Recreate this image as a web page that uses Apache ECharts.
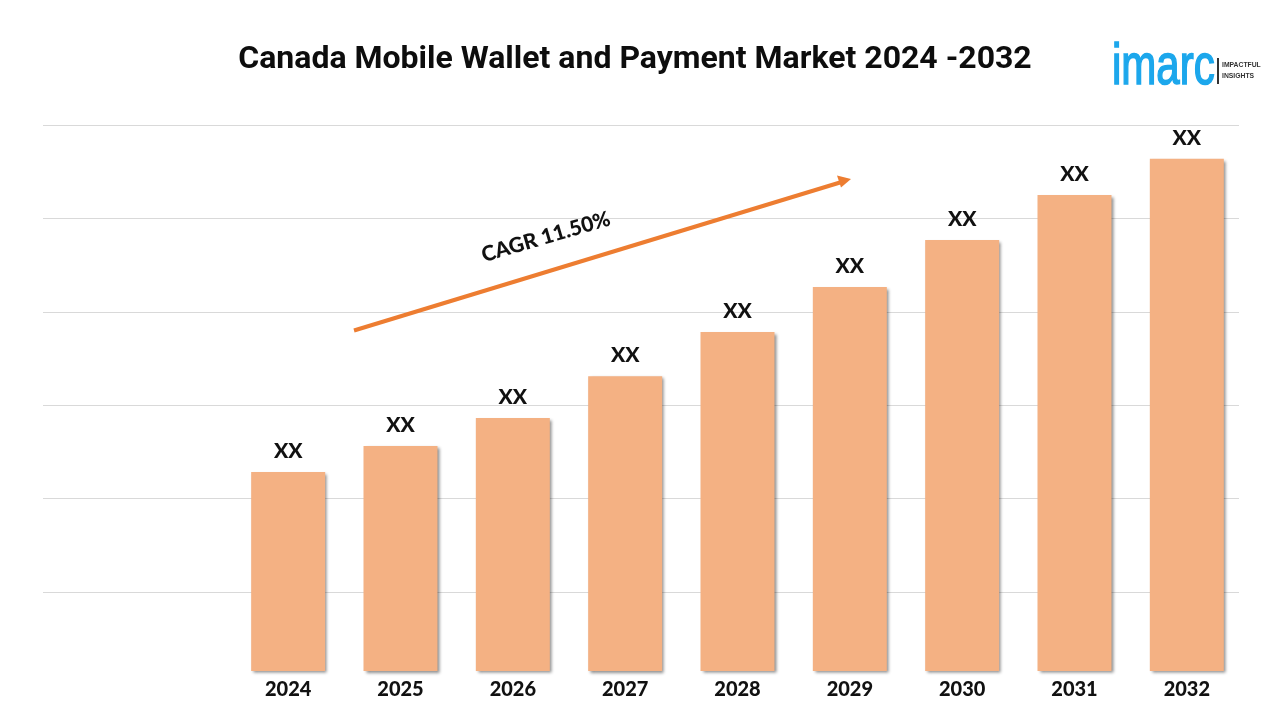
<!DOCTYPE html>
<html><head><meta charset="utf-8">
<style>html,body{margin:0;padding:0;background:#fff}#c{width:1280px;height:720px}</style>
<script src="https://cdn.jsdelivr.net/npm/echarts@6/dist/echarts.min.js"></script>
</head><body><div id="c"></div>
<script>
const categories = ['2024','2025','2026','2027','2028','2029','2030','2031','2032'];
const marketValues = [36.45,41.2,46.35,54.0,62.1,70.35,78.95,87.2,93.8];
const valueLabel = 'XX';
const chartTitle = 'Canada Mobile Wallet and Payment Market 2024 -2032';
const cagrText = 'CAGR 11.50%';

const chart = echarts.init(document.getElementById('c'), null, {renderer:'canvas', width:1280, height:720});
chart.setOption({
  animation:false,
  backgroundColor:'#ffffff',
  title:{text:chartTitle,left:630,top:39,textAlign:'center',
    textStyle:{fontFamily:'Roboto',fontWeight:'bold',fontSize:32,color:'#0d0d0d'}},
  grid:[
    {left:232,width:1011,top:125,height:546},
    {left:43,width:1196,top:125,height:560.3}
  ],
  xAxis:[
    {type:'category',gridIndex:0,data:categories,
      axisLine:{show:false},axisTick:{show:false},
      axisLabel:{margin:9,fontFamily:'Lato',fontWeight:900,fontSize:20,color:'#111111'}},
    {type:'value',gridIndex:1,min:0,max:1,show:false,splitLine:{show:false}}
  ],
  yAxis:[
    {type:'value',gridIndex:0,min:0,max:100,show:false,splitLine:{show:false}},
    {type:'value',gridIndex:1,min:0,max:6,interval:1,
      axisLine:{show:false},axisTick:{show:false},axisLabel:{show:false},
      splitLine:{show:true,showMinLine:false,lineStyle:{color:'#d9d9d9',width:1}}}
  ],
  series:[{
    type:'bar',xAxisIndex:0,yAxisIndex:0,data:marketValues,barWidth:74,z:3,
    itemStyle:{color:'#f4b183',shadowColor:'rgba(0,0,0,0.45)',shadowBlur:3,shadowOffsetX:2,shadowOffsetY:2},
    label:{show:true,position:'top',distance:10,formatter:()=>valueLabel,
      fontFamily:'Lato',fontWeight:900,fontSize:21,color:'#111111'}
  }],
  graphic:[
    {type:'line',z:10,shape:{x1:354,y1:330.5,x2:840,y2:182.5},style:{stroke:'#ed7d31',lineWidth:4}},
    {type:'polygon',z:10,shape:{points:[[851,179],[837,175.5],[841,187.5]]},style:{fill:'#ed7d31'}},
    {type:'text',z:10,x:546,y:237,rotation:0.285,
      style:{text:cagrText,align:'center',verticalAlign:'middle',fontFamily:'Lato',fontWeight:900,fontSize:21,fill:'#111111'}},
    {type:'text',z:10,x:1112,y:97,scaleY:1.35,
      style:{text:'imarc',align:'left',verticalAlign:'bottom',fontFamily:'Liberation Sans',fontSize:42,fill:'#1ca7ec',stroke:'#1ca7ec',lineWidth:1.2}},
    {type:'rect',z:10,shape:{x:1217,y:58,width:2,height:26},style:{fill:'#333333'}},
    {type:'text',z:10,x:1222,y:61,scaleX:0.85,
      style:{text:'IMPACTFUL',fontFamily:'Liberation Sans',fontSize:8,fontWeight:'bold',fill:'#333333'}},
    {type:'text',z:10,x:1222,y:72,scaleX:0.85,
      style:{text:'INSIGHTS',fontFamily:'Liberation Sans',fontSize:8,fontWeight:'bold',fill:'#333333'}}
  ]
});
</script></body></html>
